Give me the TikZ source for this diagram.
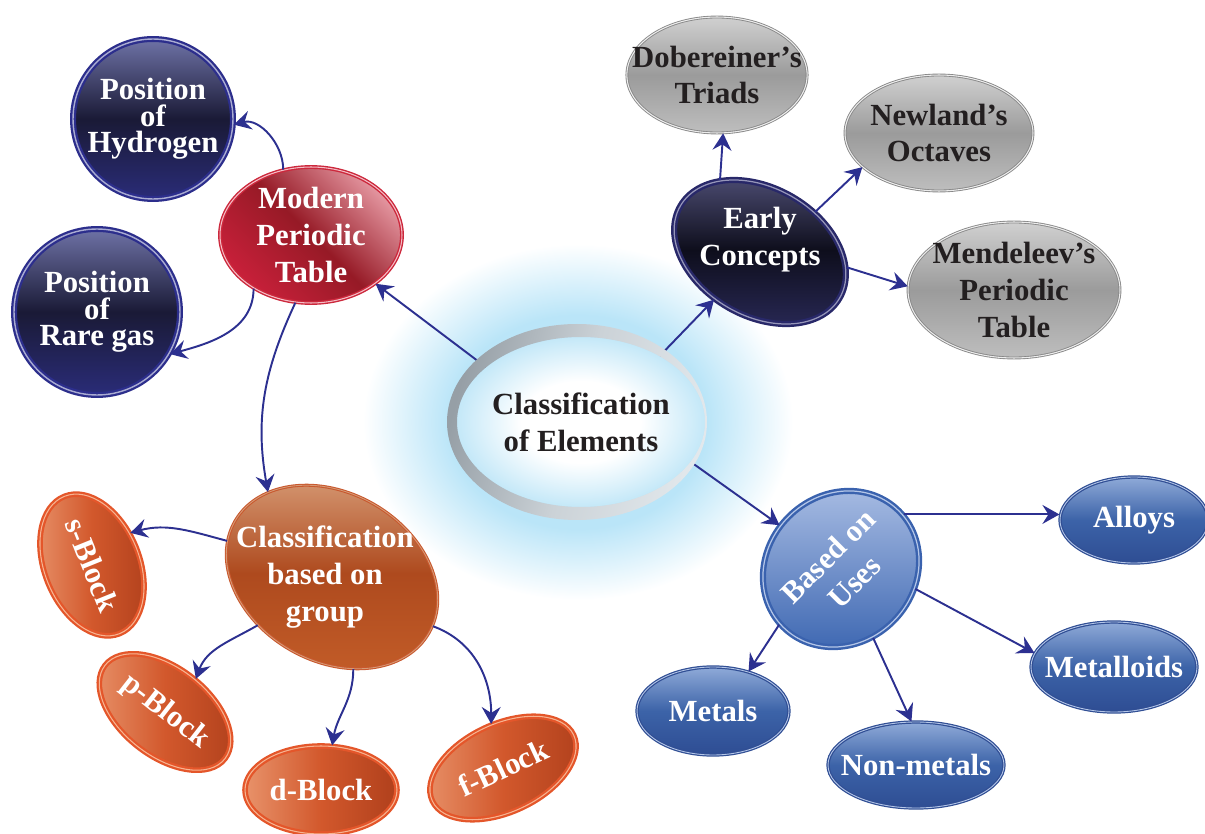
\documentclass[tikz,border=0pt]{standalone}
\usepackage{fontspec}
\setmainfont{Liberation Serif}
\usetikzlibrary{arrows.meta,shapes.geometric}

% colours picked from the chart
\definecolor{linkBlue}{RGB}{44,48,144}
\definecolor{inkDark}{RGB}{35,31,32}
\definecolor{glowBlue}{RGB}{186,229,248}
\definecolor{hubBlue}{RGB}{196,232,248}
\definecolor{ringDark}{RGB}{150,159,166}
\definecolor{ringLight}{RGB}{226,232,236}
\definecolor{navyRim}{RGB}{44,46,140}
\definecolor{navyTop}{RGB}{110,114,166}
\definecolor{navyMid}{RGB}{26,26,54}
\definecolor{navyBot}{RGB}{42,44,120}
\definecolor{navyGlint}{RGB}{170,172,210}
\definecolor{redRim}{RGB}{204,40,60}
\definecolor{redLeft}{RGB}{200,32,58}
\definecolor{redMid}{RGB}{150,26,38}
\definecolor{redRight}{RGB}{228,150,160}
\definecolor{redGlint}{RGB}{244,190,198}
\definecolor{darkRim}{RGB}{40,40,105}
\definecolor{darkTop}{RGB}{80,80,120}
\definecolor{darkMid}{RGB}{14,14,28}
\definecolor{darkBot}{RGB}{40,40,85}
\definecolor{darkGlint}{RGB}{150,150,185}
\definecolor{greyRim}{RGB}{135,135,135}
\definecolor{greyTop}{RGB}{208,208,208}
\definecolor{greyMid}{RGB}{155,155,155}
\definecolor{greyBot}{RGB}{190,190,190}
\definecolor{orangeRim}{RGB}{228,86,42}
\definecolor{orangeGlint}{RGB}{246,180,146}
\definecolor{peach}{RGB}{232,146,106}
\definecolor{rust}{RGB}{176,64,28}
\definecolor{orangeMid}{RGB}{210,88,44}
\definecolor{brownRim}{RGB}{200,88,46}
\definecolor{brownTop}{RGB}{214,154,117}
\definecolor{brownMid}{RGB}{174,74,30}
\definecolor{brownBot}{RGB}{194,92,40}
\definecolor{blueRim}{RGB}{58,98,174}
\definecolor{blueGlint}{RGB}{180,198,232}
\definecolor{blueTop}{RGB}{170,190,228}
\definecolor{blueBot}{RGB}{60,102,177}
\definecolor{steelRim}{RGB}{48,78,148}
\definecolor{steelTop}{RGB}{143,170,216}
\definecolor{steelMid}{RGB}{60,99,168}
\definecolor{steelBot}{RGB}{46,77,147}

\pgfdeclareradialshading{glowshade}{\pgfpoint{0bp}{0bp}}{%
  color(0bp)=(glowBlue); color(15bp)=(glowBlue); color(25bp)=(white); color(50bp)=(white)}
\pgfdeclareradialshading{hubshade}{\pgfpoint{0bp}{0bp}}{%
  color(0bp)=(white); color(12bp)=(white); color(25bp)=(hubBlue); color(50bp)=(hubBlue)}

\tikzset{%
  >={Stealth[length=3.4mm,width=3.8mm,inset=1.2mm]},
  % Specifications for style of nodes:
         base/.style = {ellipse, inner xsep=-12pt, inner ysep=-4pt, align=center,
                        font=\bfseries\fontsize{17.5}{21}\selectfont},
          hub/.style = {base, shade, shading=hubshade, text=inkDark},
     ballNavy/.style = {base, circle, minimum size=3.2cm, text=white,
                        draw=navyRim, line width=1.3pt, double=navyGlint, double distance=0.8pt,
                        top color=navyTop, bottom color=navyBot, middle color=navyMid,
                        font=\bfseries\fontsize{17.5}{15}\selectfont},
      ovalRed/.style = {base, text=white, draw=redRim, line width=0.8pt,
                        double=redGlint, double distance=0.6pt,
                        left color=redLeft, right color=redRight, middle color=redMid,
                        shading angle=135},
     ovalDark/.style = {base, draw=darkRim, line width=1.4pt, double=darkGlint, double distance=0.7pt,
                        top color=darkTop, bottom color=darkBot, middle color=darkMid},
     ovalGrey/.style = {base, text=inkDark, draw=greyRim, line width=0.5pt,
                        double=white!85!gray, double distance=0.6pt,
                        top color=greyTop, bottom color=greyBot, middle color=greyMid},
    ovalBrown/.style = {base, draw=brownRim, line width=0.6pt, double=brownTop, double distance=0.5pt,
                        top color=brownTop, bottom color=brownBot, middle color=brownMid},
  blockOrange/.style = {base, text=white, minimum width=3.04cm, minimum height=1.76cm,
                        draw=orangeRim, line width=1.3pt, double=orangeGlint, double distance=0.6pt,
                        left color=peach, right color=rust, middle color=orangeMid},
      ovalUse/.style = {base, text=white, draw=blueRim, line width=1.4pt,
                        double=blueGlint, double distance=0.7pt,
                        top color=blueTop, bottom color=blueBot},
    ovalSteel/.style = {base, text=white, minimum height=1.76cm, draw=steelRim, line width=0.7pt,
                        double=blueGlint, double distance=0.5pt,
                        top color=steelTop, bottom color=steelBot, middle color=steelMid},
     labelTxt/.style = {align=center, inner sep=0pt, text=white,
                        font=\bfseries\fontsize{17.5}{21}\selectfont},
         link/.style = {->, draw=linkBlue, line width=1.1pt},
}

\begin{document}
\begin{tikzpicture}[x=0.02cm, y=0.02cm]
    \useasboundingbox (0,0) rectangle (1205,833);

    % glow behind the centre ring
    \shade [shading=glowshade] (578,411) ellipse (215 and 178);
    \node (cls) [hub, minimum width=4.96cm, minimum height=3.4cm] at (581,411) {Classification\\of Elements};

    % left branch
    \node (modern) [ovalRed, minimum width=3.64cm, minimum height=2.72cm] at (311,598) {Modern\\Periodic\\Table};
    \node (hydrogen) [ballNavy] at (153,714) {Position\\of\\Hydrogen};
    \node (raregas) [ballNavy, minimum size=3.32cm] at (97,521) {Position\\of\\Rare gas};
    \node (group) [ovalBrown, rotate=-30, minimum width=4.48cm, minimum height=3.36cm] at (332,256) {};
    \node (group-txt) [labelTxt, xshift=-0.14cm] at (group) {Classification\\based on\\group};
    \node (sblock) [blockOrange, rotate=-68, minimum width=2.96cm, minimum height=1.9cm] at (92,268) {s-Block};
    \node (pblock) [blockOrange, rotate=-38] at (165,121) {p-Block};
    \node (dblock) [blockOrange] at (321,43) {d-Block};
    \node (fblock) [blockOrange, rotate=25, minimum width=3.12cm] at (503,65) {f-Block};

    % right branch
    \node (early) [ovalDark, rotate=-30, minimum width=3.68cm, minimum height=2.56cm] at (760,581) {};
    \node (early-txt) [labelTxt, yshift=0.24cm] at (early) {Early\\Concepts};
    \node (dob) [ovalGrey, minimum width=3.6cm, minimum height=2.32cm] at (717,758) {Dobereiner’s\\Triads};
    \node (newland) [ovalGrey, minimum width=3.76cm, minimum height=2.32cm] at (939,700) {Newland’s\\Octaves};
    \node (mendel) [ovalGrey, minimum width=4.24cm, minimum height=2.72cm] at (1014,543) {Mendeleev’s\\Periodic\\Table};
    \node (uses) [ovalUse, rotate=45, minimum width=3.28cm, minimum height=2.96cm] at (841,264) {Based on\\Uses};
    \node (alloys) [ovalSteel, minimum width=2.96cm, minimum height=1.72cm] at (1134,313) {Alloys};
    \node (metalloids) [ovalSteel, minimum width=3.32cm, minimum height=1.8cm] at (1114,166) {Metalloids};
    \node (metals) [ovalSteel, minimum width=3.04cm] at (713,122) {Metals};
    \node (nonmetals) [ovalSteel, minimum width=3.52cm, minimum height=1.72cm] at (916,68) {Non-metals};

    % links from the centre
    \draw [link] (cls.150) -- (modern);
    \draw [link] (cls.40) -- (early);
    \draw [link] (cls.-20) -- (uses);

    \draw [link] (modern.113) to [out=90, in=15] (hydrogen.-4);
    \draw [link] (modern.223) to [out=-90, in=15] (raregas.-30);
    \draw [link] (modern.257) to [out=245, in=100] (group.157);
    \draw [link] (group.191) to [out=165, in=15] (sblock.108);
    \draw [link] (group.243) to [out=210, in=70] (pblock.85);
    \draw [link] (group.313) to [out=-90, in=80] (dblock.76);
    \draw [link] (group.4) to [out=-20, in=90] (fblock.80);

    \draw [link] (early.149) -- (dob.-84);
    \draw [link] (early.66) -- (newland.204);
    \draw [link] (early.20) -- (mendel.178);
    \draw [link] (uses.-4) -- (uses.-4 -| alloys.west);
    \draw [link] (uses.177) -- (metals.48);
    \draw [link] (uses.250) -- (nonmetals.96);
    \draw [link] (uses.-60) -- (metalloids.170);

    % silver ring round the centre
    \shade [left color=ringDark, right color=ringLight, middle color=ringLight!70!ringDark,
            shading angle=75, even odd rule]
        (577,411) ellipse (130 and 98) (cls.center) ellipse (124 and 85);
\end{tikzpicture}
\end{document}
